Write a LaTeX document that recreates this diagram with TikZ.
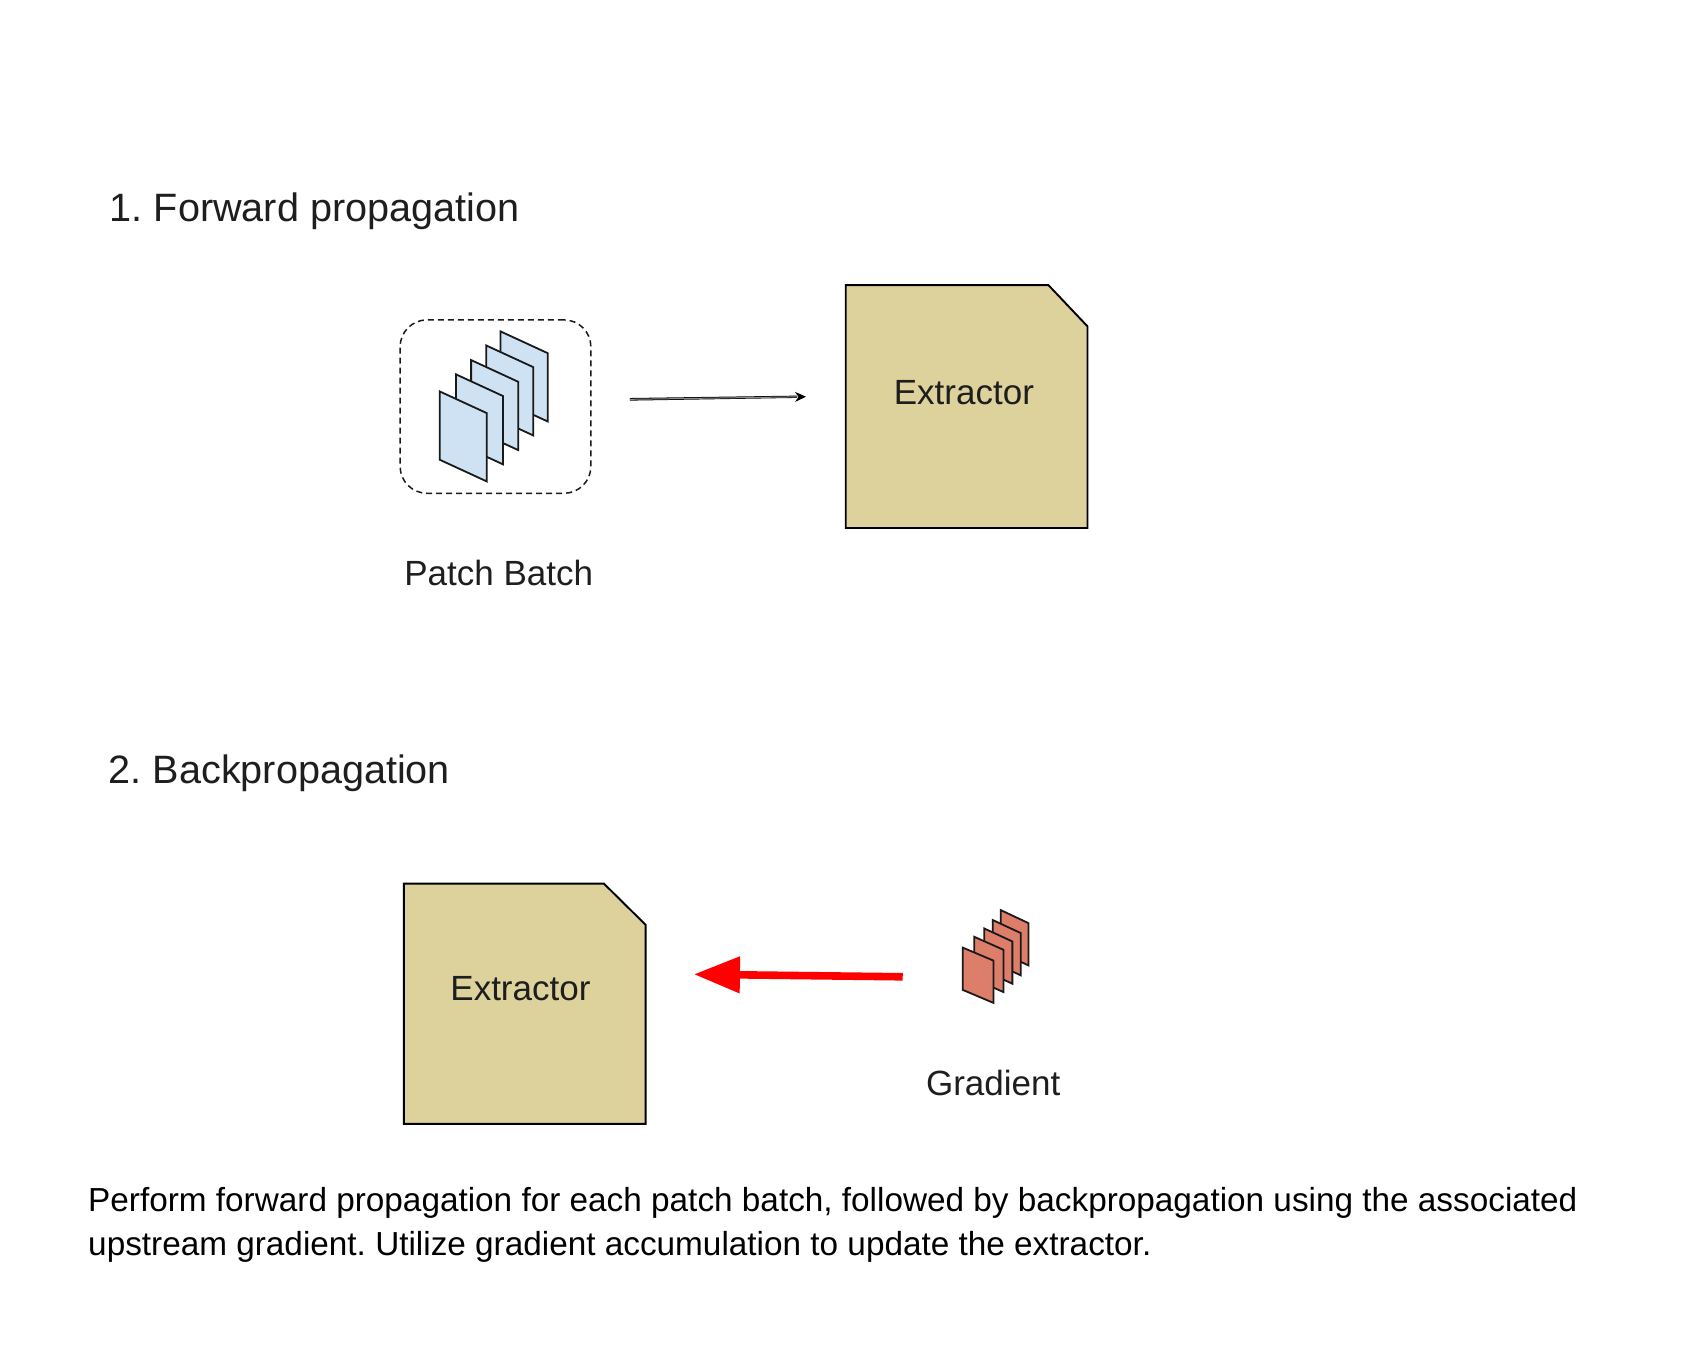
\documentclass[tikz,border=0pt]{standalone}
\usepackage{fontspec}
\setmainfont{Liberation Sans}
\frenchspacing
\definecolor{sand}{HTML}{DDD29C}
\definecolor{paleblue}{HTML}{CFE2F3}
\definecolor{salmon}{HTML}{DD7E6B}
\definecolor{ink}{HTML}{1E1E1E}
\usetikzlibrary{arrows.meta}
\tikzset{
  doc/.style={draw=black,fill=sand,line width=0.95pt,line join=miter},
  sheet/.style={draw=black!90,line width=0.9pt,line join=miter},
  bluesheet/.style={sheet,fill=paleblue},
  redsheet/.style={sheet,fill=salmon},
  heading/.style={anchor=base west,inner sep=0pt,text=ink,font=\fontsize{19.8pt}{23pt}\selectfont},
  label/.style={anchor=base,inner sep=0pt,text=ink,font=\fontsize{17.5pt}{21pt}\selectfont},
  caption/.style={anchor=north west,inner sep=0pt,align=left,text=black,font=\fontsize{16.66pt}{21.7pt}\selectfont},
  batchbox/.style={draw=black!90,dashed,dash pattern=on 3pt off 2pt,rounded corners=13.5pt,line width=0.75pt,minimum width=95.4pt,minimum height=86.7pt,inner sep=0pt},
  thinarrow/.style={draw=black!45,line width=0.5pt,-{Stealth[black,length=5.5pt,width=5pt]}},
  redarrow/.style={draw=red,line width=3.8pt,-{Triangle[length=23pt,width=17.5pt]}}
}
\begin{document}
\begin{tikzpicture}[x=0.5421pt,y=-0.5421pt]
\useasboundingbox (0,0) rectangle (1567,1246);
\fill[white] (0,0) rectangle (1567,1246);
% headings
\node[heading] (h1) at (101,204.6) {1. Forward propagation};
\node[heading] (h2) at (100,722.6) {2. Backpropagation};
% batch
\node[batchbox] (batch) at (457,375) {};
\foreach \px/\py in {461.7/305.7, 448.4/318.6, 434.5/332.1, 420.6/345.3, 405.5/361}{
  \draw[bluesheet] (\px,\py) -- ++(43.4,20) -- ++(0,63) -- ++(-43.4,-20) -- cycle;
}
\node[label] (pb) at (460,540) {Patch Batch};
% extractor 1
\draw[doc] (780,263) -- (967,263) -- (1003,301) -- (1003,487) -- (780,487) -- cycle;
\node[label] (e1) at (889,373) {Extractor};
\coordinate (a1s) at (581,368.3);
\coordinate (a1e) at (743.4,365.9);
\shade[left color=black,middle color=black!35,right color=black] (581,367.1) -- (735,364.9) -- (735,367) -- (581,369.5) -- cycle;
\draw[thinarrow] (a1s) -- (a1e);
% extractor 2
\draw[doc] (372.5,815) -- (557,815) -- (595.5,853) -- (595.5,1036.5) -- (372.5,1036.5) -- cycle;
\node[label] (e2) at (480,923) {Extractor};
% gradient
\foreach \px/\py/\w in {923/839.4/25.5, 915.7/848.6/25.8, 907.7/856.3/26, 898.5/864/27, 888/874/28.3}{
  \draw[redsheet] (\px,\py) -- ++(\w,12) -- ++(0,39) -- ++(-\w,-12) -- cycle;
}
\node[label] (gr) at (916,1010) {Gradient};
\coordinate (a2s) at (832.6,900.9);
\coordinate (a2e) at (640,898.6);
\draw[redarrow] (a2s) -- (a2e);
% caption
\node[caption] (cap) at (81,1095) {Perform forward propagation for each patch batch, followed by backpropagation using the associated\\upstream gradient. Utilize gradient accumulation to update the extractor.};
\end{tikzpicture}
\end{document}
